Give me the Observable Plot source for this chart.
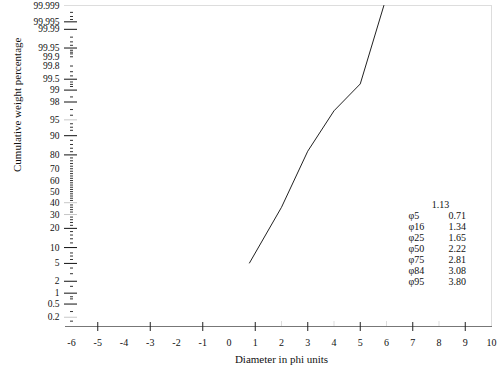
<!DOCTYPE html>
<html>
<head>
<meta charset="utf-8">
<script src="https://cdn.jsdelivr.net/npm/d3@7"></script>
<script src="https://cdn.jsdelivr.net/npm/@observablehq/plot@0.6"></script>
<style>
  html, body { margin: 0; padding: 0; background: #fff; }
  #chart svg { display: block; }
</style>
</head>
<body>
<div id="chart"></div>
<script>
// ---- data ----
const phi = [0.78, 2, 3, 4, 5, 5.9];
const cumPct = [5.1, 36, 82.3, 96.8, 99.32, 99.999];

const xTickLabels = [-6, -5, -4, -3, -2, -1, 0, 1, 2, 3, 4, 5, 6, 7, 8, 9, 10];
const xMajorTicks = [-5, -3, -1, 1, 3, 5, 7, 9];
const xFaintTicks = [2, 4, 6, 8];

const yTickLabels = ["99.999", "99.995", "99.99", "99.95", "99.9", "99.8", "99.5", "99", "98", "95", "90", "80", "70", "60", "50", "40", "30", "20", "10", "5", "2", "1", "0.5", "0.2"];
const yMajorBlack = [99.995, 99.99, 99.95, 99.5, 99, 98, 90, 80, 20, 10, 5, 2, 1, 0.5];
const yMajorGray = [95, 40, 30, 0.2];
const yMinor = [99.998, 99.997, 99.996, 99.98, 99.97, 99.96, 99.94, 99.93, 99.92, 99.9, 99.8, 99.7, 99.6, 99.4, 99.3, 99.2, 98.5, 97, 96, 94, 93, 92, 88, 86, 84, 82, 78, 76, 74, 72, 70, 68, 66, 64, 62, 60, 58, 56, 54, 52, 50, 48, 46, 44, 42, 38, 36, 34, 32, 28, 26, 24, 22, 18, 16, 14, 12, 8, 7, 6, 4, 3, 1.5, 0.8, 0.7, 0.3, 0.15];
const yDomainPct = [0.1, 99.999];

const statHeader = "1.13";
const statNames = ["φ5", "φ16", "φ25", "φ50", "φ75", "φ84", "φ95"];
const statValues = ["0.71", "1.34", "1.65", "2.22", "2.81", "3.08", "3.80"];

const xTitle = "Diameter in phi units";
const yTitle = "Cumulative weight percentage";

// ---- normal probability (probit) transform ----
function probit(p) {
  const a = [-3.969683028665376e+01, 2.209460984245205e+02, -2.759285104469687e+02, 1.383577518672690e+02, -3.066479806614716e+01, 2.506628277459239e+00];
  const b = [-5.447609879822406e+01, 1.615858368580409e+02, -1.556989798598866e+02, 6.680131188771972e+01, -1.328068155288572e+01];
  const c = [-7.784894002430293e-03, -3.223964580411365e-01, -2.400758277161838e+00, -2.549732539343734e+00, 4.374664141464968e+00, 2.938163982698783e+00];
  const d = [7.784695709041462e-03, 3.224671290700398e-01, 2.445134137142996e+00, 3.754408661907416e+00];
  const pl = 0.02425, ph = 1 - pl;
  if (p < pl) {
    const q = Math.sqrt(-2 * Math.log(p));
    return (((((c[0]*q+c[1])*q+c[2])*q+c[3])*q+c[4])*q+c[5]) / ((((d[0]*q+d[1])*q+d[2])*q+d[3])*q+1);
  }
  if (p <= ph) {
    const q = p - 0.5, r = q * q;
    return (((((a[0]*r+a[1])*r+a[2])*r+a[3])*r+a[4])*r+a[5])*q / (((((b[0]*r+b[1])*r+b[2])*r+b[3])*r+b[4])*r+1);
  }
  const q = Math.sqrt(-2 * Math.log(1 - p));
  return -(((((c[0]*q+c[1])*q+c[2])*q+c[3])*q+c[4])*q+c[5]) / ((((d[0]*q+d[1])*q+d[2])*q+d[3])*q+1);
}
const toZ = (pct) => probit(pct / 100);

const curve = phi.map((x, i) => ({phi: x, pct: cumPct[i]}));
const labelByZ = new Map(yTickLabels.map(s => [toZ(+s), s]));

const chart = Plot.plot({
  width: 503,
  height: 379,
  marginLeft: 71,
  marginRight: 12,
  marginTop: 5,
  marginBottom: 53,
  style: {fontFamily: "'Liberation Serif', 'Times New Roman', serif", fontSize: "10px", color: "#111", background: "#fff"},
  x: {domain: [-6, 10]},
  y: {domain: yDomainPct.map(toZ)},
  marks: [
    Plot.frame({anchor: "top", stroke: "#ddd", insetLeft: -7}),
    Plot.frame({anchor: "right", stroke: "#ddd"}),
    Plot.frame({anchor: "bottom", stroke: "#777", insetLeft: -6}),
    // x axis
    Plot.axisX({ticks: xTickLabels, tickSize: 0, tickPadding: 12, tickFormat: d => String(d), label: null}),
    Plot.axisX({ticks: xFaintTicks, tickSize: 5, dy: -5, text: null, stroke: "#ddd", label: null}),
    Plot.axisX({ticks: xMajorTicks, tickSize: 9, dy: -4, text: null, stroke: "#222", label: null}),
    // y axis
    Plot.axisY({ticks: yTickLabels.map(s => toZ(+s)), tickSize: 0, tickPadding: 12, fontSize: 9.5, tickFormat: z => labelByZ.get(z), label: null}),
    Plot.axisY({ticks: yMinor.map(toZ), tickSize: 3, dx: 2, text: null, stroke: "#333", label: null}),
    Plot.axisY({ticks: yMajorBlack.map(toZ), tickSize: 13, dx: 6, text: null, stroke: "#111", label: null}),
    Plot.axisY({ticks: yMajorGray.map(toZ), tickSize: 13, dx: 6, text: null, stroke: "#c8c8c8", label: null}),
    // titles
    Plot.text([xTitle], {frameAnchor: "bottom", dy: 36, fontSize: 11, fill: "#111"}),
    Plot.text([yTitle], {frameAnchor: "left", dx: -54, dy: 6, rotate: -90, fontSize: 11, fill: "#111"}),
    // curve
    Plot.line(curve, {x: "phi", y: d => toZ(d.pct), stroke: "#222", strokeWidth: 1}),
    // statistics table
    Plot.text([statHeader], {frameAnchor: "top-left", dx: 369, dy: 195, textAnchor: "middle", fill: "#111"}),
    Plot.text([statNames.join("\n")], {frameAnchor: "top-left", dx: 337, dy: 206, textAnchor: "start", lineAnchor: "top", lineHeight: 1.1, fill: "#111"}),
    Plot.text([statValues.join("\n")], {frameAnchor: "top-left", dx: 377, dy: 206, textAnchor: "start", lineAnchor: "top", lineHeight: 1.1, fill: "#111"})
  ]
});
document.getElementById("chart").appendChild(chart);
</script>
</body>
</html>
